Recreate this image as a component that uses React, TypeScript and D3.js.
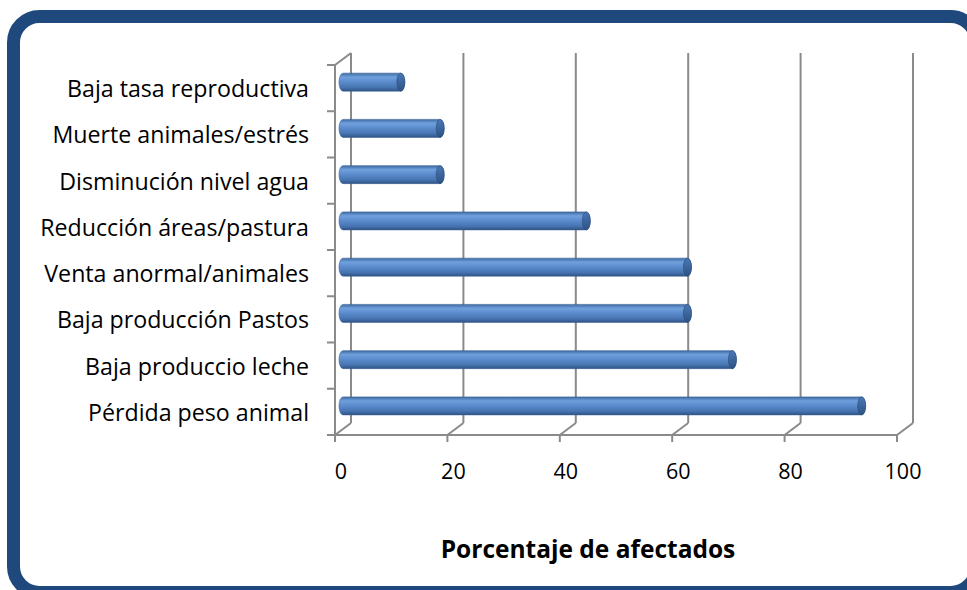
import React from "react";
import * as d3 from "d3";

const categories = [
  "Baja tasa reproductiva",
  "Muerte animales/estrés",
  "Disminución nivel agua",
  "Reducción áreas/pastura",
  "Venta anormal/animales",
  "Baja producción Pastos",
  "Baja produccio leche",
  "Pérdida peso animal",
];
const values = [11, 18, 18, 44, 62, 62, 70, 93];
const xTicks = [0, 20, 40, 60, 80, 100];
const axisTitle = "Porcentaje de afectados";

export default function App() {
  const W = 967, H = 590;
  const x = d3.scaleLinear().domain([0, 100]).range([335, 897]);
  const y = d3.scaleBand<string>().domain(categories).range([65, 435]);
  const bw = y.bandwidth();
  const DX = 16, DY = -12;
  const grid = "#8a8a8a";
  const font = "'Open Sans', 'Noto Sans', sans-serif";
  const r = 9, rx = 4;

  return (
    <div style={{ position: "absolute", left: 0, top: 0 }}>
      <svg width={W} height={H} style={{ display: "block" }}>
        <defs>
          <linearGradient id="barGrad" x1="0" y1="0" x2="0" y2="1">
            <stop offset="0%" stopColor="#3d69a1" />
            <stop offset="22%" stopColor="#70a0dc" />
            <stop offset="45%" stopColor="#5e8ecf" />
            <stop offset="80%" stopColor="#4674b1" />
            <stop offset="100%" stopColor="#2f5283" />
          </linearGradient>
          <linearGradient id="capGrad" x1="0" y1="0" x2="0" y2="1">
            <stop offset="0%" stopColor="#4a79b6" />
            <stop offset="100%" stopColor="#2e5283" />
          </linearGradient>
        </defs>
        <rect x={0} y={0} width={W} height={H} fill="#ffffff" />
        <rect x={13.5} y={16.5} width={963} height={576} rx={26} ry={26}
          fill="#ffffff" stroke="#1f497d" strokeWidth={13} />

        {xTicks.map((t) => (
          <line key={"g" + t} x1={x(t) + DX} x2={x(t) + DX} y1={65 + DY} y2={435 + DY}
            stroke={grid} strokeWidth={2} />
        ))}
        {xTicks.map((t) => (
          <g key={"f" + t}>
            <line x1={x(t)} y1={435} x2={x(t) + DX} y2={435 + DY} stroke={grid} strokeWidth={2} />
            <line x1={x(t)} y1={435} x2={x(t)} y2={442} stroke={grid} strokeWidth={2} />
          </g>
        ))}
        <line x1={x(0)} x2={x(100)} y1={435} y2={435} stroke={grid} strokeWidth={2} />
        <line x1={x(0)} x2={x(0)} y1={65} y2={435} stroke={grid} strokeWidth={2} />
        <line x1={x(0)} y1={65} x2={x(0) + DX} y2={65 + DY} stroke={grid} strokeWidth={2} />
        {categories.map((c) => (
          <line key={"t" + c} x1={x(0) - 8} x2={x(0)} y1={y(c)!} y2={y(c)!} stroke={grid} strokeWidth={2} />
        ))}
        <line x1={x(0) - 8} x2={x(0)} y1={435} y2={435} stroke={grid} strokeWidth={2} />

        {categories.map((c, i) => {
          const cy = y(c)! + bw / 2 + DY / 2;
          const x0 = x(0) + DX / 2;
          const xe = x(values[i]) + DX / 2 - rx;
          const d = `M${x0},${cy - r} L${xe},${cy - r} A${rx},${r} 0 0 1 ${xe},${cy + r} L${x0},${cy + r} A${rx},${r} 0 0 1 ${x0},${cy - r} Z`;
          return (
            <g key={"b" + c}>
              <path d={d} fill="url(#barGrad)" stroke="#3b6398" strokeWidth={0.6} />
              <ellipse cx={xe} cy={cy} rx={rx} ry={r} fill="url(#capGrad)" stroke="#2b4c7a" strokeWidth={0.6} />
            </g>
          );
        })}

        {categories.map((c) => (
          <text key={"l" + c} x={309} y={y(c)! + bw / 2} textAnchor="end" dominantBaseline="central"
            fontFamily={font} fontSize={23.2} fill="#000">{c}</text>
        ))}
        {xTicks.map((t) => (
          <text key={"x" + t} x={x(t) + 6} y={470} textAnchor="middle" dominantBaseline="central"
            fontFamily={font} fontSize={21.5} fill="#000">{t}</text>
        ))}
        <text x={588} y={558} textAnchor="middle" fontFamily={font} fontWeight="bold" fontSize={24.5} fill="#000">
          {axisTitle}
        </text>
      </svg>
    </div>
  );
}
